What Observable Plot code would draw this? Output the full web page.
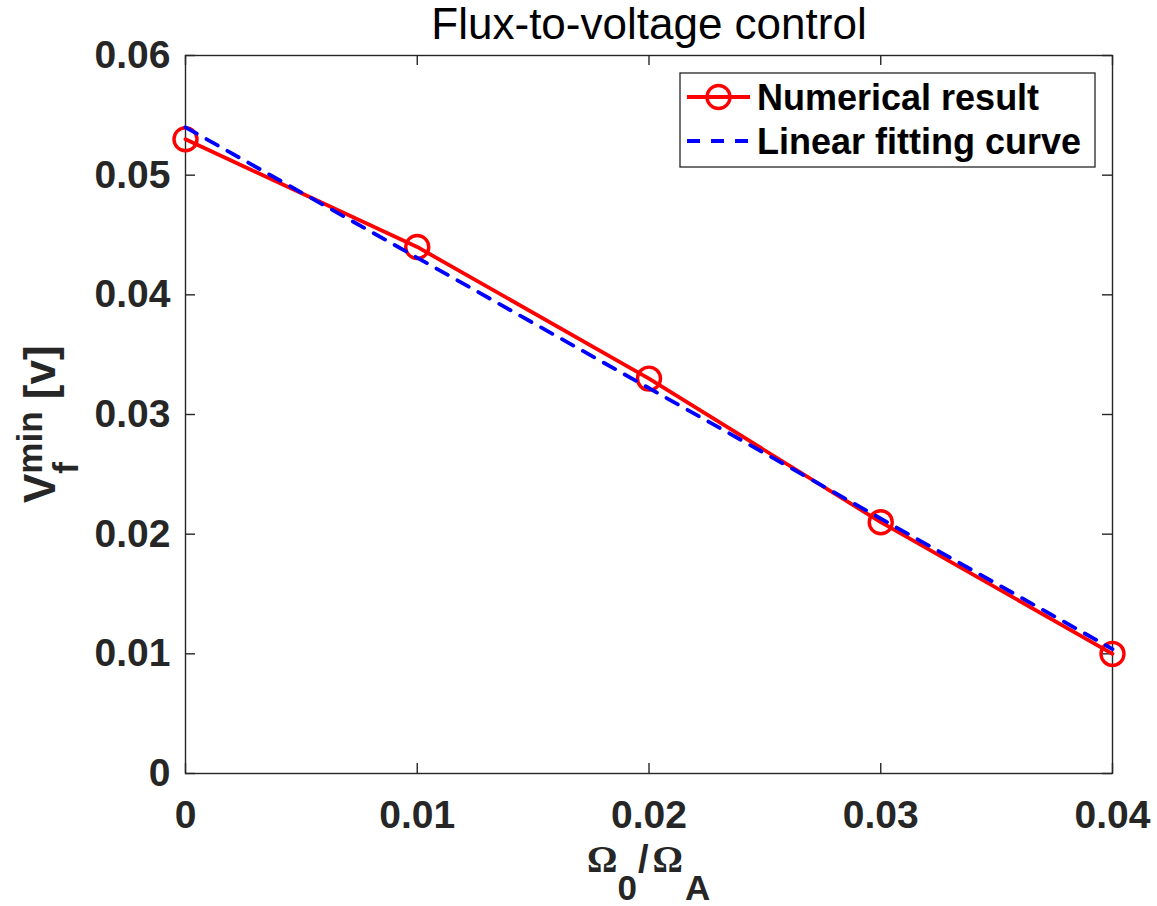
<!DOCTYPE html>
<html><head><meta charset="utf-8">
<script src="https://cdn.jsdelivr.net/npm/d3@7"></script>
<script src="https://cdn.jsdelivr.net/npm/@observablehq/plot@0.6"></script>
<style>
body{margin:0;background:#fff}
#chart{position:relative;width:1157px;height:906px}
#chart svg{font-family:"Liberation Sans",Arial,Helvetica,sans-serif}
</style>
</head><body><div id="chart"></div>
<script>
// ---- data ----
const omegaRatio = [0, 0.01, 0.02, 0.03, 0.04];
const vfMin = [0.053, 0.044, 0.033, 0.021, 0.010];
const fitX = [0, 0.04];
const fitY = [0.054, 0.0104];
const xTicks = [0, 0.01, 0.02, 0.03, 0.04];
const xTickLabels = ["0", "0.01", "0.02", "0.03", "0.04"];
const yTicks = [0, 0.01, 0.02, 0.03, 0.04, 0.05, 0.06];
const yTickLabels = ["0", "0.01", "0.02", "0.03", "0.04", "0.05", "0.06"];
const titleText = "Flux-to-voltage control";
const seriesNames = ["Numerical result", "Linear fitting curve"];

const numerical = omegaRatio.map((x, i) => ({x, y: vfMin[i]}));
const fit = fitX.map((x, i) => ({x, y: fitY[i]}));

const W = 1157, H = 906;
const mL = 185, mR = 45, mT = 55, mB = 133;
const innerW = W - mL - mR, innerH = H - mT - mB;
const tickLen = 10;
const axisColor = "#262626";
const RED = "#FF0000", BLUE = "#0000FF";

const plot = Plot.plot({
  width: W, height: H,
  marginLeft: mL, marginRight: mR, marginTop: mT, marginBottom: mB,
  x: {domain: [0, 0.04], axis: null},
  y: {domain: [0, 0.06], axis: null},
  style: {background: "#fff", overflow: "visible"},
  marks: [
    Plot.frame({stroke: axisColor, strokeWidth: 1.4}),
    Plot.tickX(xTicks, {x: d => d, insetTop: innerH - tickLen, stroke: axisColor, strokeWidth: 1.4}),
    Plot.tickX(xTicks, {x: d => d, insetBottom: innerH - tickLen, stroke: axisColor, strokeWidth: 1.4}),
    Plot.tickY(yTicks, {y: d => d, insetLeft: innerW - tickLen, stroke: axisColor, strokeWidth: 1.4}),
    Plot.tickY(yTicks, {y: d => d, insetRight: innerW - tickLen, stroke: axisColor, strokeWidth: 1.4}),
    Plot.text(xTicks, {x: d => d, frameAnchor: "bottom", lineAnchor: "top", dy: 27,
      text: (d, i) => xTickLabels[i], fontSize: 39, fontWeight: "bold", fill: axisColor}),
    Plot.text(yTicks, {y: d => d, frameAnchor: "left", textAnchor: "end", lineAnchor: "middle", dx: -15,
      text: (d, i) => yTickLabels[i], fontSize: 39, fontWeight: "bold", fill: axisColor}),
    Plot.text([titleText], {frameAnchor: "top", lineAnchor: "bottom", dy: 38 - mT,
      text: d => d, fontSize: 44, fill: "#000"}),
    Plot.line(numerical, {x: "x", y: "y", stroke: RED, strokeWidth: 3.8}),
    Plot.dot(numerical, {x: "x", y: "y", r: 11.5, stroke: RED, strokeWidth: 3.4, fill: "none"}),
    Plot.line(fit, {x: "x", y: "y", stroke: BLUE, strokeWidth: 3.8, strokeDasharray: "13,11"})
  ]
});
document.getElementById("chart").appendChild(plot);

const svg = d3.select(plot);
const sans = '"Liberation Sans",Arial,Helvetica,sans-serif';
const serif = '"Liberation Serif","Times New Roman",serif';

// x-axis label: Ω_0/Ω_A
const xl = svg.append("text").attr("x", 587).attr("y", 872).attr("text-anchor", "start")
  .attr("fill", axisColor).attr("font-weight", "bold").attr("font-family", sans).attr("font-size", 44);
xl.append("tspan").attr("font-family", serif).attr("font-size", 38).text("Ω");
xl.append("tspan").attr("font-size", 35).attr("dy", 28).text("0");
xl.append("tspan").attr("font-size", 38).attr("dy", -28).attr("dx", 1).text("/");
xl.append("tspan").attr("font-family", serif).attr("font-size", 38).attr("dx", 4).text("Ω");
xl.append("tspan").attr("font-size", 35).attr("dy", 28).attr("dx", 2).text("A");

// y-axis label: V_f^min [v]
const yl = svg.append("text").attr("transform", "translate(55,503) rotate(-90)").attr("text-anchor", "start")
  .attr("fill", axisColor).attr("font-weight", "bold").attr("font-family", sans).attr("font-size", 44);
yl.append("tspan").text("V");
const fSpan = yl.append("tspan").attr("font-size", 35).attr("dy", 23).text("f");
const fW = fSpan.node().getComputedTextLength();
yl.append("tspan").attr("font-size", 35).attr("dy", -36).attr("dx", -fW).text("min");
yl.append("tspan").attr("dy", 13).text("\u00a0[v]");

// legend
const lg = svg.append("g").attr("text-anchor", "start");
lg.append("rect").attr("x", 680).attr("y", 73).attr("width", 415).attr("height", 94)
  .attr("fill", "#fff").attr("stroke", axisColor).attr("stroke-width", 1.3);
const rows = [97, 141];
lg.append("line").attr("x1", 687).attr("x2", 750).attr("y1", rows[0]).attr("y2", rows[0])
  .attr("stroke", RED).attr("stroke-width", 3.8);
lg.append("circle").attr("cx", 718.5).attr("cy", rows[0]).attr("r", 11.5)
  .attr("fill", "none").attr("stroke", RED).attr("stroke-width", 3.4);
lg.append("line").attr("x1", 687).attr("x2", 750).attr("y1", rows[1]).attr("y2", rows[1])
  .attr("stroke", BLUE).attr("stroke-width", 3.8).attr("stroke-dasharray", "13,11");
seriesNames.forEach((name, i) => {
  lg.append("text").attr("x", 757).attr("y", rows[i] + 13).attr("text-anchor", "start")
    .attr("font-family", sans).attr("font-weight", "bold").attr("font-size", 36)
    .attr("fill", "#000").text(name);
});
</script>
</body></html>
